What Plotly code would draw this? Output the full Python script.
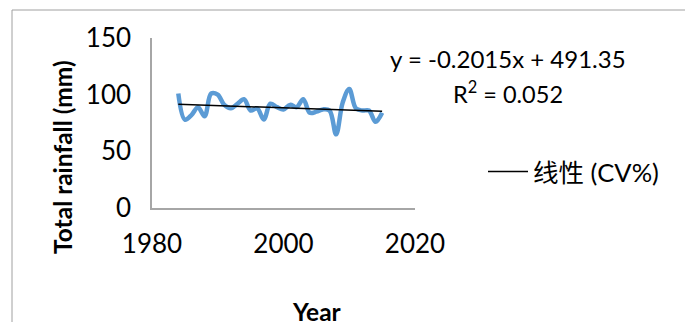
import plotly.graph_objects as go

# ---- data ----
years = [1984, 1985, 1986, 1987, 1988, 1989, 1990, 1991, 1992, 1993, 1994,
         1995, 1996, 1997, 1998, 1999, 2000, 2001, 2002, 2003, 2004, 2005,
         2006, 2007, 2008, 2009, 2010, 2011, 2012, 2013, 2014, 2015]
cv_values = [101, 78, 82, 89, 81, 101, 100, 91, 88, 92, 96,
             86, 88, 78, 92, 89, 87, 91, 89, 96, 84, 85,
             87, 86, 65, 93, 105, 88, 86, 86, 76, 84]
trend_slope = -0.2015
trend_intercept = 491.35
r_squared = 0.052
x_ticks = [1980, 2000, 2020]
y_ticks = [0, 50, 100, 150]

trend_x = [years[0], years[-1]]
trend_y = [trend_slope * x + trend_intercept for x in trend_x]

FONT = "Lato, 'Noto Sans CJK SC', sans-serif"

# page body has an 8px margin: work in screen pixels, convert to figure pixels
OFF = 8
W, H = 693, 322
L, T, R, B = 152 - OFF, 38 - OFF, 415 - OFF, 208 - OFF
pw, ph = R - L, B - T


def px(x):
    return (x - OFF - L) / pw


def py(y):
    return (B - (y - OFF)) / ph


fig = go.Figure()
fig.add_trace(go.Scatter(
    x=years, y=cv_values, mode="lines", name="CV%", showlegend=False,
    line=dict(color="#5B9BD5", width=4.5, shape="spline", smoothing=1.0),
))
fig.add_trace(go.Scatter(
    x=trend_x, y=trend_y, mode="lines", name="线性 (CV%)",
    line=dict(color="#000000", width=1.5),
))

fig.update_layout(
    width=W, height=H,
    margin=dict(l=L, t=T, r=W - R, b=H - B, autoexpand=False),
    paper_bgcolor="white", plot_bgcolor="white",
    font=dict(family=FONT, size=24, color="#000000"),
    showlegend=True,
    legend=dict(x=px(483), y=py(172), xanchor="left", yanchor="middle",
                font=dict(family=FONT, size=25.5, color="#000000"),
                bgcolor="rgba(0,0,0,0)", itemwidth=40),
    xaxis=dict(range=[1980, 2020], tickvals=x_ticks, showgrid=False, zeroline=False,
               showline=True, linecolor="#A6A6A6", linewidth=1.5, ticks="",
               ticklabelstandoff=12, tickfont=dict(size=26)),
    yaxis=dict(range=[0, 150], tickvals=y_ticks, showgrid=False, zeroline=False,
               showline=True, linecolor="#A6A6A6", linewidth=1.5, ticks="",
               ticklabelstandoff=14, tickfont=dict(size=26)),
    annotations=[
        dict(text="Total rainfall (mm)", xref="paper", yref="paper",
             x=px(62), y=py(157), textangle=-90, showarrow=False,
             xanchor="center", yanchor="middle",
             font=dict(family=FONT, size=24.5, color="#000000", weight="bold")),
        dict(text="Year", xref="paper", yref="paper",
             x=px(317), y=py(311), showarrow=False,
             xanchor="center", yanchor="middle",
             font=dict(family=FONT, size=24.5, color="#000000", weight="bold")),
        dict(text=f"y = {trend_slope}x + {trend_intercept}", xref="paper", yref="paper",
             x=px(508), y=py(58), showarrow=False, xanchor="center", yanchor="middle",
             font=dict(family=FONT, size=24, color="#000000")),
        dict(text=f"R<sup>2</sup> = {r_squared}", xref="paper", yref="paper",
             x=px(508), y=py(92), showarrow=False, xanchor="center", yanchor="middle",
             font=dict(family=FONT, size=23.5, color="#000000")),
    ],
    shapes=[
        dict(type="rect", xref="paper", yref="paper",
             x0=px(12), x1=px(691), y0=py(345), y1=py(10),
             line=dict(color="#A0A0A0", width=1), fillcolor="rgba(0,0,0,0)",
             layer="below"),
    ],
)

fig.write_html("out.html")
